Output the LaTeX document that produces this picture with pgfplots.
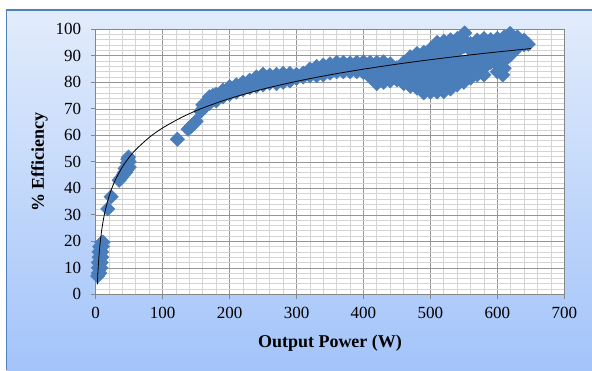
\documentclass[border=0pt]{standalone}
\usepackage{fontspec}
\setmainfont{Liberation Serif}
\usepackage{pgfplots}
\usepackage{pgfplotstable}
\pgfplotsset{compat=1.18}
\definecolor{mblue}{RGB}{74,126,187}
\definecolor{bgtop}{RGB}{226,236,251}
\definecolor{bgbot}{RGB}{163,196,250}
\definecolor{frameblue}{RGB}{79,129,189}
\definecolor{majgrid}{RGB}{150,150,150}
\definecolor{mingrid}{RGB}{212,212,212}
\definecolor{axgray}{RGB}{134,134,134}

\pgfplotstableread{
x y
3 6.9
4 8
6 8
4 10
6 10
8 10
4 12
6 12
8 12
5 14
7 14
9 14
5 16
7 16
9 16
6 18
8 18
10 18
9 19.5
11 19.7
18 32.2
23 36.8
35 43
38 44
41 45
43 46
44 47.5
46 48
47 49.5
48 51
49 51.8
50 50
50 48
47 47
45 46
122 58.5
138 62.3
142 63.3
146 64.3
150 65.3
157 69
160 70
160 71.5
170 72
170 74.5
175 75
180 73
180 75.5
190 74.5
190 77
200 75.5
200 78.3
210 76.3
210 79
220 77.2
220 80
230 78
230 80.8
240 78.5
240 80.5
240 82
250 79
250 81
250 83
260 79.7
260 81.2
260 82.7
270 79.5
270 81.3
270 83
280 80
280 81.7
280 83.3
290 80.5
290 82
290 83.3
300 81.5
300 83
310 82
310 83.5
320 82.5
320 85
330 82.5
330 84.5
330 86
340 82.8
340 84.7
340 86.5
350 83.5
350 85.3
350 87
360 84
360 85.8
360 87.5
370 84
370 85.8
370 87.5
380 84
380 85.7
380 87.3
390 84
390 85.8
390 87.5
400 83.7
400 85.7
400 87.7
410 82
410 84.5
410 87.5
420 79.5
420 82
420 84.5
420 87.5
430 80
430 82.5
430 85
430 87.7
440 80.5
440 83
440 85
440 87
450 80.9
450 83.2
450 85.5
460 79.5
460 82
460 84.5
460 87.5
470 78.5
470 81
470 83.5
470 86.5
470 89.6
480 77.8
480 80.5
480 83
480 85.5
480 88
480 90.8
490 76
490 78.5
490 81
490 83.5
490 86
490 88.5
490 91.3
500 76.3
500 79
500 81.5
500 84
500 86.5
500 89.5
500 92.5
510 76.3
510 79
510 81.5
510 84
510 86.5
510 89.5
510 92
510 95
520 76.5
520 79
520 81.5
520 84
520 86.5
520 89.5
520 92.5
520 95.5
530 77.5
530 80
530 82.5
530 85
530 88
530 90.5
530 93
530 96
540 79
540 81.5
540 84
540 86.5
540 89
540 91.5
540 94
540 96.5
550 80
550 82.5
550 85
550 87.5
550 93.5
550 96
551 98.6
560 81.6
560 84
560 86.5
560 89
560 92
560 94.6
570 82.8
570 85.5
570 88
570 90.5
570 93
570 95.9
580 82.8
580 85.5
580 88
580 91
580 93.7
580 96.5
590 87.5
590 90
590 92.5
590 94.5
590 96.1
600 84
600 86.5
600 89
600 91.5
600 94
600 96.5
608 82.8
610 85.3
610 88
610 90.5
610 93
610 95.5
610 97.1
620 90.4
620 93
620 95.5
619 98.4
630 93
630 95
630 97.1
640 94.2
640 95.9
646 94.4
}\effdata

\pgfplotstableread{
x y
2.5 3.76
3 6.68
4 11.28
5 14.85
6 17.77
8 22.37
10 25.94
12 28.86
15 32.43
20 37.03
25 40.60
30 43.52
40 48.12
50 51.69
60 54.61
80 59.21
100 62.78
130 66.98
160 70.30
200 73.87
250 77.44
300 80.36
350 82.83
400 84.96
450 86.85
500 88.53
550 90.06
600 91.45
650 92.73
}\trenddata

\begin{document}
\begin{tikzpicture}
\useasboundingbox (0pt,0pt) rectangle (592pt,370pt);
\fill[white] (0pt,0pt) rectangle (592pt,370pt);
\shade[top color=bgtop, bottom color=bgbot] (6.5pt,0pt) rectangle (592pt,360pt);
\draw[frameblue, line width=1.2pt] (6.5pt,0pt) -- (6.5pt,360pt) -- (592pt,360pt);
\begin{axis}[at={(95.7pt,75.7pt)}, anchor=south west, scale only axis,
  width=468.6pt, height=265pt,
  xmin=0, xmax=700, ymin=0, ymax=100,
  xtick={0,100,...,700}, ytick={0,10,...,100},
  minor x tick num=4, minor y tick num=4, grid=both,
  major grid style={majgrid, line width=0.6pt},
  minor grid style={mingrid, line width=0.8pt},
  axis background/.style={fill=white},
  axis line style={axgray, line width=0.8pt},
  tick align=outside, major tick length=5pt, minor tick length=0pt,
  xtick pos=left, ytick pos=left,
  tick style={axgray, line width=0.8pt},
  ticklabel style={font=\fontsize{17}{19}\selectfont, text=black},
  /pgf/number format/assume math mode=true,
  yticklabel style={xshift=-6pt},
  xticklabel style={yshift=-4pt},
  xlabel={Output Power (W)}, ylabel={\% Efficiency},
  label style={font=\fontsize{18}{20}\selectfont\bfseries},
  xlabel style={at={(axis description cs:0.5,-0.184)}, anchor=center},
  ylabel style={at={(axis description cs:-0.12,0.5)}, anchor=center},
  clip=false]
\addplot[only marks, mark=square*, mark size=5.1pt,
  mark options={rotate=45, fill=mblue, draw=mblue}] table[x=x, y=y] {\effdata};
\end{axis}
\begin{axis}[at={(95.7pt,75.7pt)}, anchor=south west, scale only axis,
  width=468.6pt, height=265pt,
  xmin=0, xmax=700, ymin=0, ymax=100, hide axis, clip=false]
\addplot[black, line width=0.8pt, smooth, no marks] table[x=x, y=y] {\trenddata};
\end{axis}
\end{tikzpicture}
\end{document}
